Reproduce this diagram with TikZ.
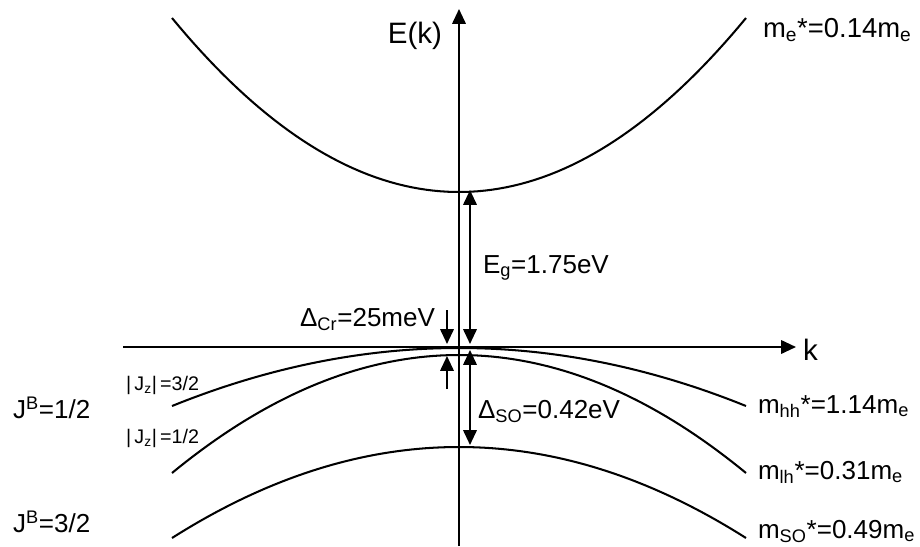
\documentclass[tikz,border=0pt]{standalone}
\usepackage{fontspec}
\setmainfont{Liberation Sans}
\usetikzlibrary{arrows.meta, positioning}

\begin{document}
\begin{tikzpicture}[x=0.025cm, y=-0.025cm, line width=1.45pt,
    tip/.style={-{Triangle[length=10.5pt,width=9.5pt]}},
    both/.style={{Triangle[length=10.5pt,width=9.5pt]}-{Triangle[length=10.5pt,width=9.5pt]}},
    lbl/.style={font=\fontsize{18.5}{20}\selectfont, inner sep=0pt},
    big/.style={font=\fontsize{21}{23}\selectfont, inner sep=0pt},
    small/.style={font=\fontsize{14}{16}\selectfont, inner sep=0pt}]
    \useasboundingbox (0,0) rectangle (920,546);
    % axes
    \draw[tip] (459,546) coordinate (Ebot) -- (459,9) coordinate (Etop);
    \draw[tip] (123,347) coordinate (kleft) -- (796,347) coordinate (ktip);
    \node[big, anchor=base east] (Ek) at (443,43) {E(k)};
    \node[big, anchor=base west] (k) at (802,360) {k};
    % bands: name/top/drop
    \foreach \n/\t/\d in {cb/192/-174, hh/348/58, lh/355/118, so/447/91}{
        \draw plot[domain=-287:287, samples=80] ({459+\x}, {\t+\d*(\x/287)^2});
        \coordinate (\n) at (470,\t);
    }
    % gaps
    \coordinate (g1) at ([yshift=0.05cm]cb);
    \coordinate (g2) at (470,344);
    \coordinate (s1) at (470,350);
    \coordinate (s2) at ([yshift=0.05cm]so);
    \draw[both] (g1) -- (g2);
    \draw[both] (s1) -- (s2);
    \draw[tip] (447,310) coordinate (c1) -- (447,344) coordinate (c2);
    \draw[tip] (447,389) coordinate (c3) -- (447,356) coordinate (c4);
    % labels
    \node[lbl, font=\fontsize{19.5}{21}\selectfont, anchor=base west] (me) at (762,37) {m\textsubscript{e}*=0.14m\textsubscript{e}};
    \node[lbl, anchor=base west] (Eg) at (482,273) {E\textsubscript{g}=1.75eV};
    \node[lbl, anchor=base east] (dcr) at (436,326) {Δ\textsubscript{Cr}=25meV};
    \node[lbl, anchor=base west] (dso) at (477,418) {Δ\textsubscript{SO}=0.42eV};
    \node[lbl, anchor=base west] (mhh) at (757,413) {m\textsubscript{hh}*=1.14m\textsubscript{e}};
    \node[lbl, anchor=base west] (mlh) at (757,479) {m\textsubscript{lh}*=0.31m\textsubscript{e}};
    \node[lbl, anchor=base west] (mso) at (757,538) {m\textsubscript{SO}*=0.49m\textsubscript{e}};
    \node[lbl, anchor=base west] (jb1) at (12,418) {J\textsuperscript{B}=1/2};
    \node[lbl, anchor=base west] (jb3) at (12,532) {J\textsuperscript{B}=3/2};
    \node[small, anchor=base west] (jz3) at (125,390) {|\,J\textsubscript{z}|\,=3/2};
    \node[small, anchor=base west] (jz1) at (125,443) {|\,J\textsubscript{z}|\,=1/2};
\end{tikzpicture}
\end{document}
